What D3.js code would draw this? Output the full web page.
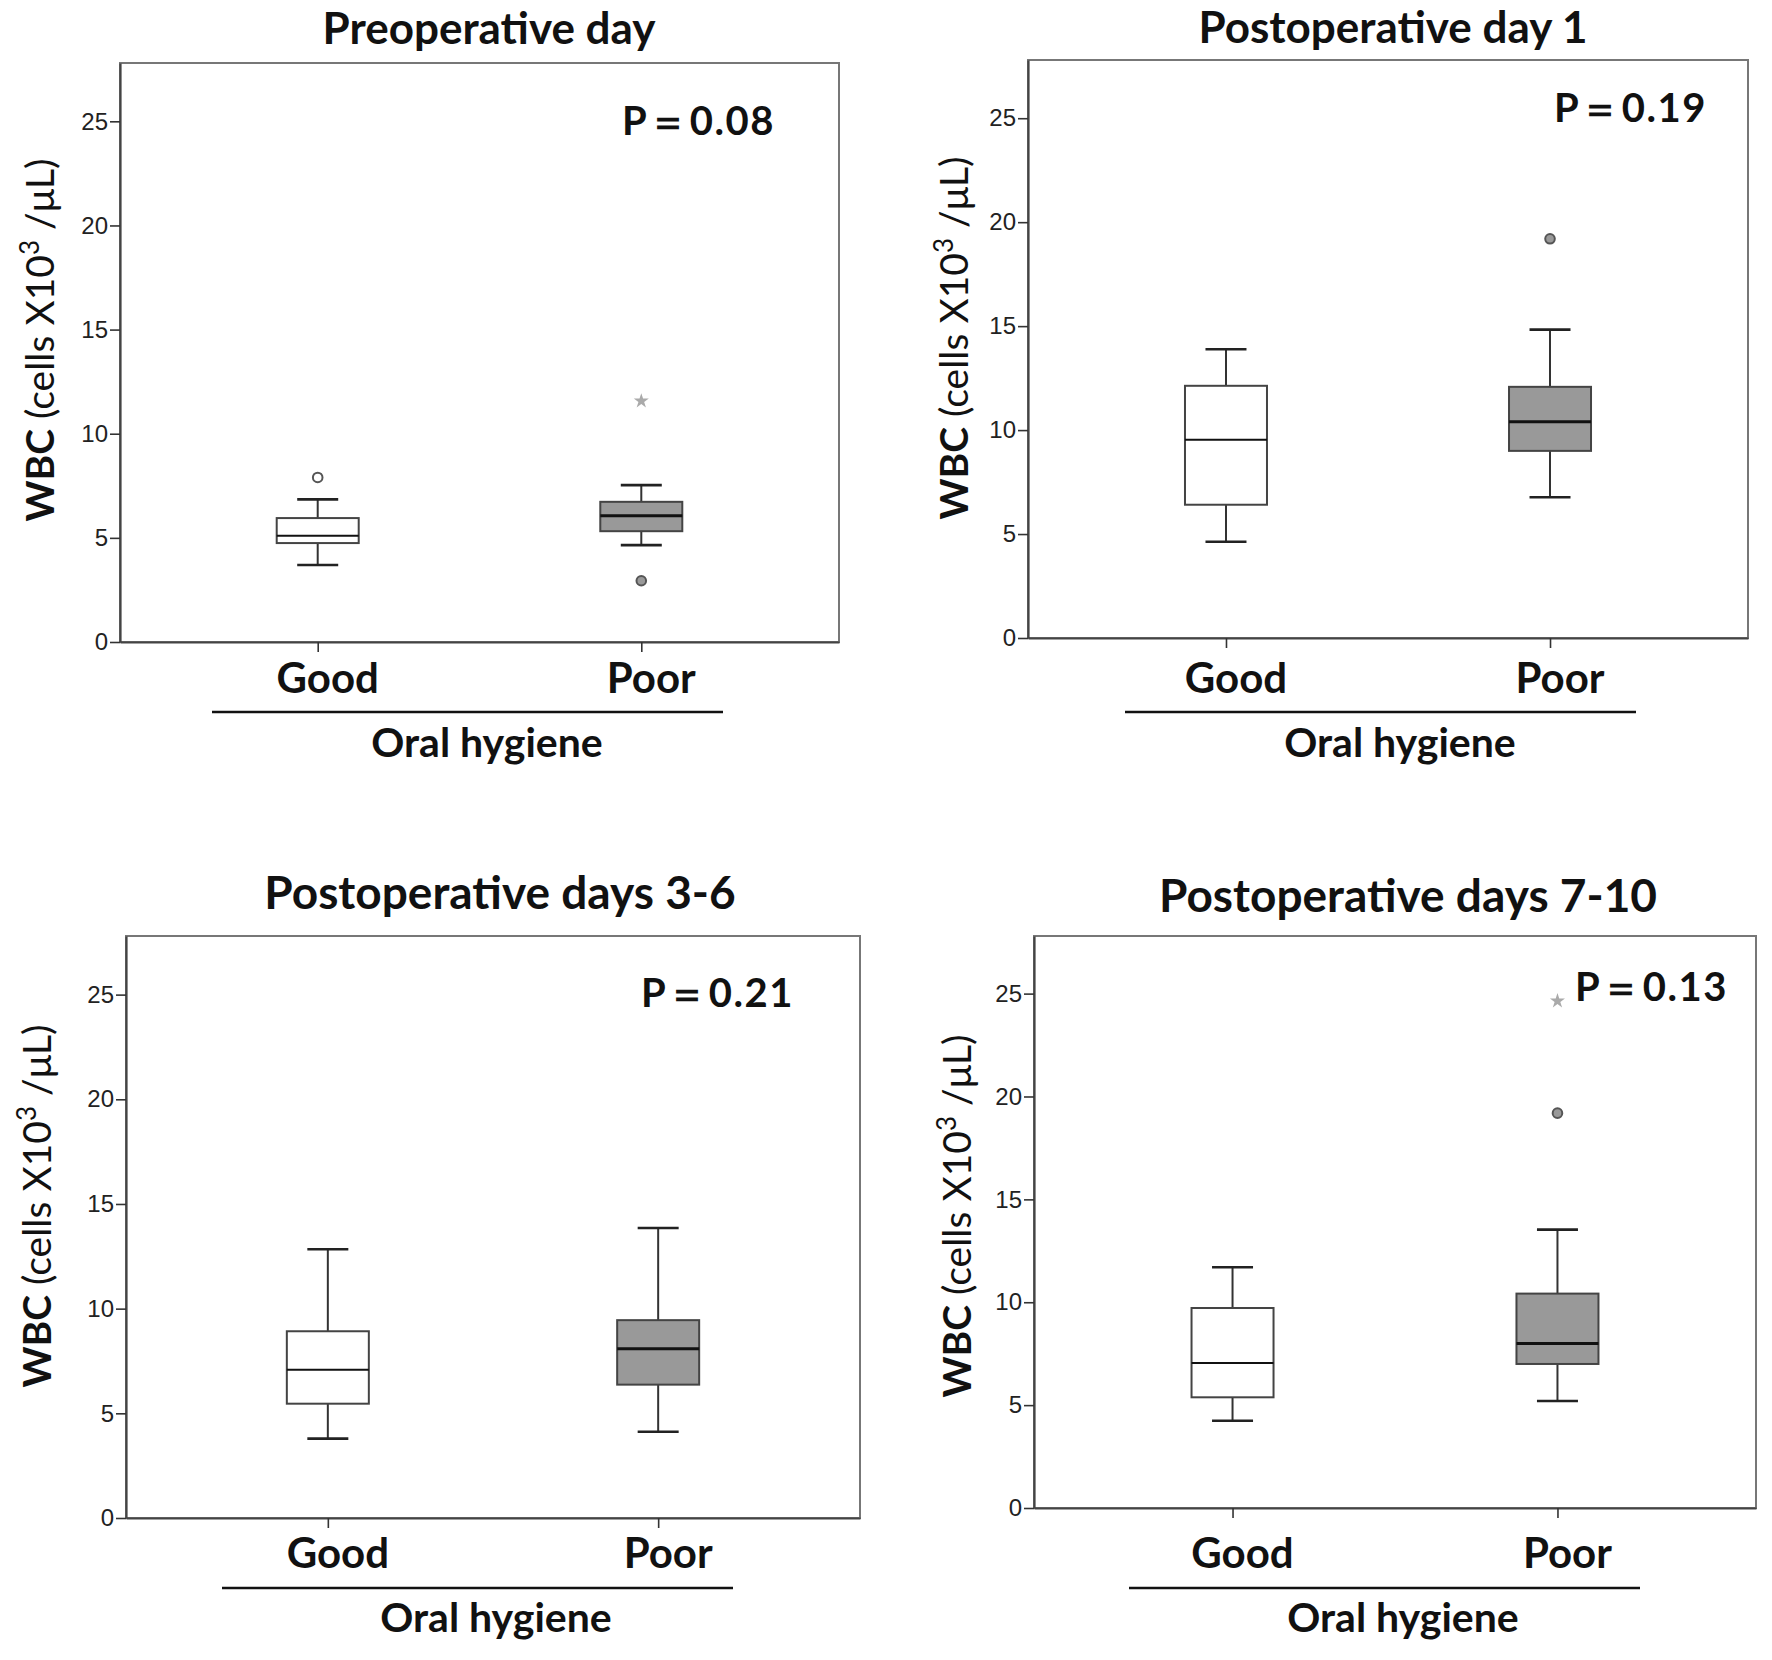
<!DOCTYPE html>
<html>
<head>
<meta charset="utf-8">
<script src="https://cdn.jsdelivr.net/npm/d3@7"></script>
<style>
  html, body { margin: 0; padding: 0; background: #fff; }
  svg { display: block; }
</style>
</head>
<body>
<svg id="chart" width="1772" height="1660"></svg>
<script>
// ---------------- DATA ----------------
const categories = ["Good", "Poor"];
const panelTitles = ["Preoperative day", "Postoperative day 1", "Postoperative days 3-6", "Postoperative days 7-10"];
const pValues = ["0.08", "0.19", "0.21", "0.13"];
const yTicks = [0, 5, 10, 15, 20, 25];
const yMax = 27.8;
const xAxisTitle = "Oral hygiene";

// box stats: [lower whisker, Q1, median, Q3, upper whisker]
const preopGood = [3.7, 4.75, 5.1, 5.95, 6.85];
const preopPoor = [4.65, 5.32, 6.06, 6.73, 7.53];
const pod1Good = [4.63, 6.41, 9.54, 12.13, 13.89];
const pod1Poor = [6.77, 9.0, 10.40, 12.08, 14.83];
const pod36Good = [3.79, 5.46, 7.08, 8.92, 12.84];
const pod36Poor = [4.12, 6.37, 8.09, 9.45, 13.85];
const pod710Good = [4.24, 5.38, 7.05, 9.72, 11.70];
const pod710Poor = [5.20, 7.0, 8.0, 10.42, 13.53];

// outliers (circles) and extremes (stars) per group
const preopOutGood = [7.9], preopOutPoor = [2.94];
const preopExtGood = [], preopExtPoor = [11.57];
const pod1OutGood = [], pod1OutPoor = [19.2];
const pod1ExtGood = [], pod1ExtPoor = [];
const pod36OutGood = [], pod36OutPoor = [];
const pod36ExtGood = [], pod36ExtPoor = [];
const pod710OutGood = [], pod710OutPoor = [19.19];
const pod710ExtGood = [], pod710ExtPoor = [24.64];

const panelBoxes = [[preopGood, preopPoor], [pod1Good, pod1Poor], [pod36Good, pod36Poor], [pod710Good, pod710Poor]];
const panelOut = [[preopOutGood, preopOutPoor], [pod1OutGood, pod1OutPoor], [pod36OutGood, pod36OutPoor], [pod710OutGood, pod710OutPoor]];
const panelExt = [[preopExtGood, preopExtPoor], [pod1ExtGood, pod1ExtPoor], [pod36ExtGood, pod36ExtPoor], [pod710ExtGood, pod710ExtPoor]];

// ---------------- LAYOUT ----------------
const layout = [
  {l:120, r:839, t:63, b:642, titleX:489, titleY:44, titleSize:44, pX:622, pY:135, labY:693, lineX:[212,723], lineY:712, oralX:487, oralY:757, ylabX:40, ylabY:340},
  {l:1028, r:1748, t:60, b:638, titleX:1393, titleY:43, titleSize:44, pX:1554, pY:122, labY:693, lineX:[1125,1636], lineY:712, oralX:1400, oralY:757, ylabX:954, ylabY:338},
  {l:126, r:860, t:936, b:1518, titleX:500, titleY:909, titleSize:46, pX:641, pY:1007, labY:1568, lineX:[222,733], lineY:1588, oralX:496, oralY:1632, ylabX:37, ylabY:1206},
  {l:1034, r:1756, t:936, b:1508, titleX:1408, titleY:912, titleSize:46, pX:1575, pY:1001, labY:1568, lineX:[1129,1640], lineY:1588, oralX:1403, oralY:1632, ylabX:957, ylabY:1216}
];
const fills = {Good: "#ffffff", Poor: "#999999"};
const boxW = 82, capW = 41;
const boldFont = "Lato, 'Open Sans', sans-serif";
const tickFont = "'Liberation Sans', Arial, sans-serif";

const svg = d3.select("#chart");

layout.forEach((L, i) => {
  const g = svg.append("g");
  const y = d3.scaleLinear().domain([0, yMax]).range([L.b, L.t]);
  const x = d3.scalePoint().domain(categories).range([L.l, L.r]).padding(0.611);

  // frame
  g.append("rect").attr("x", L.l).attr("y", L.t).attr("width", L.r - L.l).attr("height", L.b - L.t)
    .attr("fill", "none").attr("stroke", "#777").attr("stroke-width", 2);

  // y axis
  const ya = g.append("g").attr("transform", `translate(${L.l},0)`)
    .call(d3.axisLeft(y).tickValues(yTicks).tickSize(10).tickSizeOuter(0).tickPadding(2).tickFormat(d3.format("d")));
  ya.select(".domain").attr("stroke", "#444").attr("stroke-width", 2.2);
  ya.selectAll(".tick line").attr("stroke", "#333").attr("stroke-width", 1.6);
  ya.selectAll(".tick text").attr("font-family", tickFont).attr("font-size", 24).attr("fill", "#222");

  // x axis
  const xa = g.append("g").attr("transform", `translate(0,${L.b})`)
    .call(d3.axisBottom(x).tickSize(10).tickSizeOuter(0).tickFormat(""));
  xa.select(".domain").attr("stroke", "#444").attr("stroke-width", 2.2);
  xa.selectAll(".tick line").attr("stroke", "#333").attr("stroke-width", 1.6);

  // boxes
  categories.forEach((c, ci) => {
    const s = panelBoxes[i][ci];
    const cx = x(c);
    const stroke = "#333";
    g.append("line").attr("x1", cx).attr("x2", cx).attr("y1", y(s[0])).attr("y2", y(s[1])).attr("stroke", stroke).attr("stroke-width", 2);
    g.append("line").attr("x1", cx).attr("x2", cx).attr("y1", y(s[3])).attr("y2", y(s[4])).attr("stroke", stroke).attr("stroke-width", 2);
    [s[0], s[4]].forEach(v => {
      g.append("line").attr("x1", cx - capW / 2).attr("x2", cx + capW / 2).attr("y1", y(v)).attr("y2", y(v))
        .attr("stroke", "#222").attr("stroke-width", 2.6);
    });
    g.append("rect").attr("x", cx - boxW / 2).attr("y", y(s[3])).attr("width", boxW).attr("height", y(s[1]) - y(s[3]))
      .attr("fill", fills[c]).attr("stroke", "#444").attr("stroke-width", 2);
    g.append("line").attr("x1", cx - boxW / 2).attr("x2", cx + boxW / 2).attr("y1", y(s[2])).attr("y2", y(s[2]))
      .attr("stroke", "#111").attr("stroke-width", c === "Poor" ? 3 : 2);

    panelOut[i][ci].forEach(v => {
      g.append("circle").attr("cx", cx).attr("cy", y(v)).attr("r", 4.8)
        .attr("fill", fills[c]).attr("stroke", "#555").attr("stroke-width", 2);
    });
    panelExt[i][ci].forEach(v => {
      g.append("path").attr("d", d3.symbol(d3.symbolStar, 70)())
        .attr("transform", `translate(${cx},${y(v)})`).attr("fill", "#aaa");
    });
  });

  // category labels
  categories.forEach(c => {
    g.append("text").attr("x", x(c) + 10).attr("y", L.labY).attr("text-anchor", "middle")
      .attr("font-family", boldFont).attr("font-weight", 700).attr("font-size", 42).attr("fill", "#111").text(c);
  });

  // underline + axis title
  g.append("line").attr("x1", L.lineX[0]).attr("x2", L.lineX[1]).attr("y1", L.lineY).attr("y2", L.lineY)
    .attr("stroke", "#111").attr("stroke-width", 2.5);
  g.append("text").attr("x", L.oralX).attr("y", L.oralY).attr("text-anchor", "middle")
    .attr("font-family", boldFont).attr("font-weight", 700).attr("font-size", 41).attr("fill", "#111").text(xAxisTitle);

  // title
  g.append("text").attr("x", L.titleX).attr("y", L.titleY).attr("text-anchor", "middle")
    .attr("font-family", boldFont).attr("font-weight", 700).attr("font-size", L.titleSize).attr("fill", "#111").text(panelTitles[i]);

  // P value
  g.append("text").attr("x", L.pX).attr("y", L.pY).attr("text-anchor", "start")
    .attr("font-family", boldFont).attr("font-weight", 700).attr("font-size", 40).attr("letter-spacing", 1.5).attr("fill", "#111")
    .text("P\uFF1D" + pValues[i]);

  // y label
  const yl = g.append("text").attr("transform", `translate(${L.ylabX + 14},${L.ylabY}) rotate(-90)`)
    .attr("text-anchor", "middle").attr("font-family", boldFont).attr("font-size", 39).attr("fill", "#111");
  yl.append("tspan").attr("font-weight", 700).text("WBC");
  yl.append("tspan").attr("font-weight", 400).text(" (cells X10");
  yl.append("tspan").attr("font-weight", 400).attr("font-size", 26).attr("dy", -15).text("3");
  yl.append("tspan").attr("font-weight", 400).attr("dy", 15).text(" /\u03BCL)");
});
</script>
</body>
</html>
